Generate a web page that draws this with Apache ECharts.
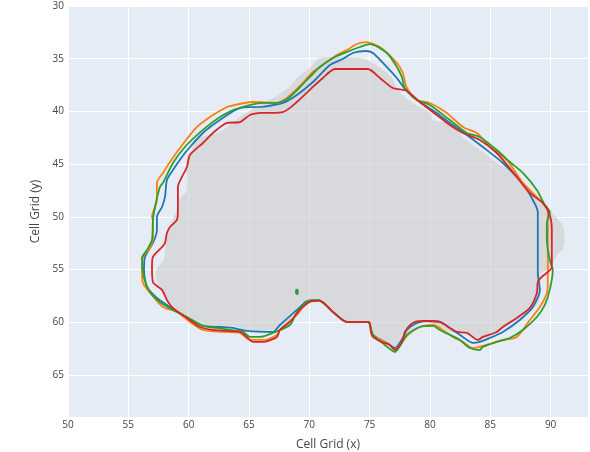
<!DOCTYPE html>
<html>
<head>
<meta charset="utf-8">
<script src="https://cdn.jsdelivr.net/npm/echarts@6/dist/echarts.min.js"></script>
<style>
  html, body { margin: 0; padding: 0; background: #fff; }
  #chart { width: 590px; height: 452px; }
</style>
</head>
<body>
<div id="chart"></div>
<script>
// grey reference region (x, y in cell grid units)
var regionShape = [[70.9,35.0],[74.2,35.0],[75.0,35.3],[76.7,36.7],[77.3,38.0],[78.1,38.9],[79.2,39.7],[80.0,40.2],[80.2,40.9],[81.7,41.2],[82.7,42.5],[84.1,43.7],[85.5,44.9],[86.6,45.7],[88.3,47.5],[89.4,48.7],[90.2,49.8],[91.0,51.0],[91.0,52.9],[90.5,53.6],[89.9,54.8],[89.1,55.3],[89.1,56.0],[88.9,58.2],[87.2,59.8],[85.5,60.9],[84.1,61.7],[83.1,60.9],[81.9,60.9],[80.0,60.0],[79.2,60.0],[77.9,61.4],[77.1,62.5],[76.4,62.0],[75.2,61.0],[74.9,60.0],[73.1,60.0],[71.0,57.9],[70.2,57.9],[69.2,58.2],[68.1,60.1],[66.7,60.7],[64.8,60.7],[64.3,60.5],[63.7,60.3],[62.8,60.6],[62.0,60.3],[61.2,60.3],[60.1,59.8],[58.9,58.6],[58.2,57.6],[57.4,56.0],[57.4,55.0],[58.0,54.1],[58.2,52.2],[58.7,50.3],[59.0,49.6],[59.3,48.4],[59.9,47.5],[59.9,44.3],[60.3,43.7],[60.7,42.7],[62.6,42.0],[63.7,41.1],[64.8,40.2],[68.1,38.0],[69.2,36.7],[70.1,35.9]];

var contourBlue = [[66.16,39.58],[67.81,39.2],[68.97,38.44],[70.3,37.21],[71.71,35.6],[72.78,35.03],[73.61,34.46],[74.69,34.27],[75.27,34.46],[76.43,35.79],[77.26,36.83],[77.92,37.87],[79.16,39.11],[80.57,40.15],[81.65,41.1],[82.73,41.95],[84.38,43.38],[86.04,44.9],[87.7,46.89],[88.53,48.41],[88.94,49.54],[88.94,52.2],[88.94,55.33],[89.11,56.94],[88.53,58.56],[87.45,59.79],[86.04,60.93],[84.96,61.5],[84.13,61.88],[83.55,61.97],[82.73,61.4],[81.65,60.55],[80.82,59.98],[79.74,59.89],[78.91,60.08],[78.09,60.74],[77.75,61.5],[77.09,62.45],[76.43,61.97],[75.27,61.21],[74.86,59.98],[73.12,59.98],[71.96,59.03],[70.71,57.89],[69.8,57.99],[68.97,58.84],[67.56,60.27],[66.98,60.93],[64.83,60.83],[63.67,60.55],[62.59,60.46],[61.18,60.36],[59.86,59.6],[58.45,58.56],[57.37,57.7],[56.55,56.66],[56.3,55.05],[56.38,53.81],[57.04,52.49],[57.37,51.25],[57.37,50.02],[57.79,49.07],[58.04,48.12],[58.2,46.51],[58.7,45.56],[59.44,44.33],[60.11,43.38],[61.18,42.05],[62.59,40.82],[64.25,39.68],[66.16,39.58]];

var contourOrange = [[63.17,39.58],[65.33,39.11],[67.32,39.2],[68.14,38.73],[69.22,37.59],[70.3,36.26],[71.46,35.31],[72.29,34.65],[73.12,34.17],[73.94,33.61],[74.69,33.42],[75.85,33.89],[77.26,35.41],[77.75,36.36],[78.09,37.78],[78.91,38.92],[79.99,39.2],[81.4,40.15],[82.73,41.48],[83.89,42.05],[84.96,43.38],[86.37,44.61],[87.7,46.79],[89.11,48.41],[89.77,49.35],[89.77,52.2],[89.77,56.0],[89.69,57.23],[89.11,58.56],[88.28,59.79],[87.2,61.4],[86.04,61.69],[84.71,62.16],[83.55,62.45],[82.73,61.88],[81.9,61.4],[80.82,60.55],[80.24,60.27],[79.16,60.46],[78.17,61.21],[77.09,62.64],[76.68,62.16],[75.27,61.21],[74.86,59.98],[73.12,59.98],[71.96,59.03],[70.71,57.89],[69.8,58.08],[68.97,59.32],[67.56,60.74],[67.32,61.21],[66.16,61.69],[65.08,61.69],[64.25,61.02],[62.84,60.93],[61.18,60.74],[60.11,59.98],[59.03,59.03],[57.87,58.56],[56.96,57.42],[56.21,56.28],[56.13,55.05],[56.21,53.81],[56.79,52.96],[57.04,52.01],[57.04,50.3],[56.96,50.02],[57.37,48.41],[57.37,46.79],[57.87,45.84],[58.45,44.8],[59.28,43.47],[60.69,41.48],[62.01,40.34],[63.17,39.58]];

var contourGreen = [[63.67,39.87],[66.16,39.2],[67.32,39.2],[68.39,38.63],[69.8,37.02],[70.88,35.79],[71.96,34.93],[73.12,34.36],[74.19,33.89],[75.02,33.61],[76.43,34.46],[77.26,35.79],[77.67,36.74],[77.92,37.78],[78.91,38.92],[79.99,39.39],[81.65,40.82],[83.06,42.05],[84.13,42.43],[85.54,43.66],[86.62,44.8],[87.7,45.84],[88.86,47.46],[89.52,48.88],[89.93,49.54],[89.69,50.59],[89.69,52.2],[89.93,54.1],[90.18,55.05],[89.93,56.94],[89.52,58.37],[88.86,59.51],[87.7,60.74],[86.62,61.5],[85.54,61.88],[84.38,62.35],[84.13,62.64],[83.31,62.45],[82.48,61.69],[81.65,61.21],[80.82,60.74],[80.24,60.36],[79.16,60.46],[78.09,61.21],[77.09,62.83],[76.26,62.16],[75.27,61.21],[74.86,59.98],[73.12,59.98],[71.96,59.03],[70.71,57.89],[69.8,58.08],[68.97,59.03],[68.39,60.27],[66.98,61.02],[65.91,61.4],[65.08,61.4],[64.5,60.93],[63.42,60.74],[62.34,60.55],[61.18,60.36],[59.86,59.51],[58.7,58.84],[57.62,58.08],[56.79,57.13],[56.3,55.81],[56.13,53.91],[56.55,53.15],[56.96,52.2],[57.04,50.3],[57.21,49.07],[57.62,47.17],[57.87,46.79],[58.7,44.9],[59.69,43.38],[61.18,41.76],[62.59,40.53],[63.67,39.87]];

var contourRed = [[65.91,40.15],[67.81,40.06],[68.97,39.11],[70.3,37.68],[71.13,36.83],[72.12,35.98],[73.61,35.98],[74.86,35.98],[75.85,36.83],[76.93,37.78],[78.09,38.06],[79.16,39.11],[80.57,40.34],[81.65,41.29],[82.73,42.05],[84.13,42.71],[85.54,43.95],[87.2,46.22],[88.28,47.74],[89.35,48.69],[89.93,49.83],[90.1,51.25],[90.1,54.76],[89.27,55.71],[88.94,56.19],[88.86,57.23],[88.28,58.65],[87.2,59.6],[86.04,60.46],[85.54,60.93],[84.38,61.4],[83.97,61.69],[83.06,61.02],[82.23,60.93],[81.65,60.55],[80.82,59.98],[79.41,59.89],[78.58,60.08],[77.92,60.93],[77.75,61.69],[77.09,62.64],[76.68,62.16],[76.01,61.88],[75.27,61.4],[75.1,60.93],[74.94,59.98],[73.12,59.98],[71.96,59.03],[70.88,57.99],[70.05,58.08],[69.22,58.84],[68.39,59.98],[67.56,60.74],[67.32,61.4],[66.16,61.88],[65.33,61.88],[64.91,61.5],[64.25,60.93],[63.17,60.83],[62.01,60.74],[60.94,60.46],[59.86,59.6],[58.7,58.65],[58.2,57.89],[57.79,56.94],[57.04,56.19],[56.96,54.76],[57.04,53.81],[57.79,52.87],[58.04,52.49],[58.2,51.54],[58.45,50.97],[59.03,50.3],[59.11,49.35],[59.11,47.17],[59.44,46.22],[59.86,45.28],[60.11,44.14],[61.18,43.0],[62.01,42.05],[63.17,41.1],[64.25,41.01],[65.08,40.34],[65.91,40.15]];

// tiny isolated contours near (69, 57)
var islandBlue = [[68.95,56.85],[68.9,57.1],[68.95,57.35]];
var islandGreen = [[69.0,56.85],[69.06,57.1],[69.0,57.35],[68.96,57.1],[69.0,56.85]];

var xTicks = [50, 55, 60, 65, 70, 75, 80, 85, 90];
var yTicks = [30, 35, 40, 45, 50, 55, 60, 65];

var myChart = echarts.init(document.getElementById('chart'));

function contour(name, color, data) {
    return {
        name: name,
        type: 'line',
        data: data,
        symbol: 'none',
        smooth: 0.25,
        lineStyle: { color: color, width: 1.8 },
        z: 3
    };
}

var option = {
    animation: false,
    backgroundColor: '#fff',
    grid: {
        left: 68, right: 2, top: 6, bottom: 35,
        outerBoundsMode: 'none',
        show: true, backgroundColor: '#e5ecf6', borderWidth: 0
    },
    xAxis: {
        type: 'value',
        min: 50, max: 93.1, interval: 5,
        name: 'Cell Grid (x)',
        nameLocation: 'middle',
        nameGap: 22,
        nameTextStyle: { color: '#444', fontSize: 12, fontFamily: 'Open Sans, sans-serif' },
        axisLine: { show: false },
        axisTick: { show: false },
        axisLabel: {
            color: '#444', fontSize: 10, margin: 3, fontFamily: 'Open Sans, sans-serif',
            formatter: function(v) { return xTicks.indexOf(v) >= 0 ? String(v) : ''; }
        },
        splitLine: { lineStyle: { color: '#fff', width: 1 } }
    },
    yAxis: {
        type: 'value',
        inverse: true,
        min: 30, max: 69, interval: 5,
        name: 'Cell Grid (y)',
        nameLocation: 'middle',
        nameGap: 25,
        nameTextStyle: { color: '#444', fontSize: 12, fontFamily: 'Open Sans, sans-serif' },
        axisLine: { show: false },
        axisTick: { show: false },
        axisLabel: {
            color: '#444', fontSize: 10, margin: 4, fontFamily: 'Open Sans, sans-serif',
            formatter: function(v) { return yTicks.indexOf(v) >= 0 ? String(v) : ''; }
        },
        splitLine: { lineStyle: { color: '#fff', width: 1 } }
    },
    series: [
        {
            type: 'custom',
            z: 1,
            renderItem: function(params, api) {
                var pts = regionShape.map(function(p) { return api.coord(p); });
                return {
                    type: 'polygon',
                    shape: { points: pts, smooth: 0.3 },
                    style: { fill: 'rgba(205,205,205,0.6)', stroke: 'rgba(215,215,215,0.8)', lineWidth: 1.5 }
                };
            },
            data: [0]
        },
        contour('blue', '#1f77b4', contourBlue),
        contour('orange', '#ff7f0e', contourOrange),
        contour('green', '#2ca02c', contourGreen),
        contour('red', '#d62728', contourRed),
        contour('blue-island', '#1f77b4', islandBlue),
        contour('green-island', '#2ca02c', islandGreen)
    ]
};
myChart.setOption(option);
</script>
</body>
</html>
